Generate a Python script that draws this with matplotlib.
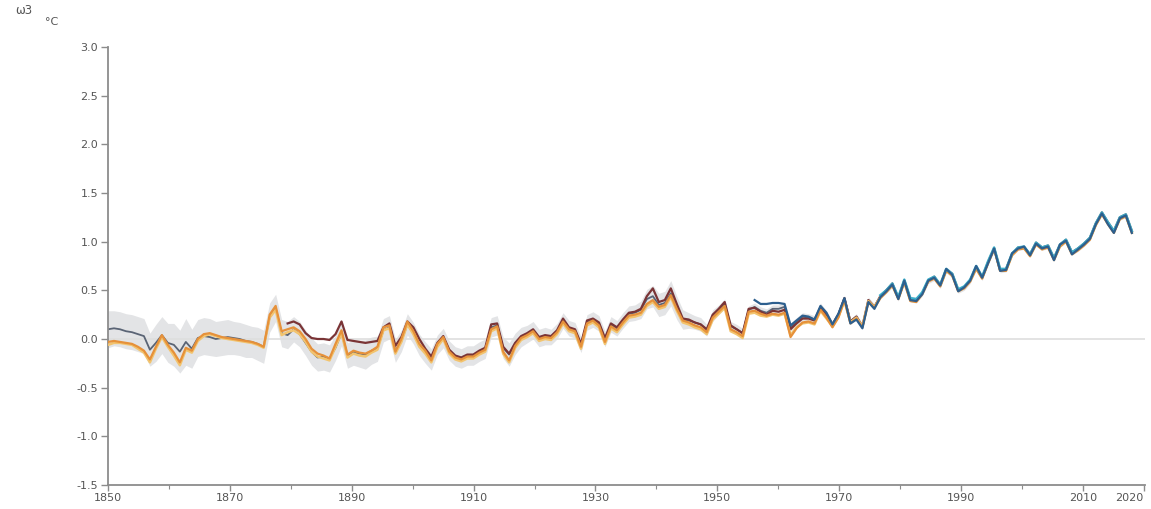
import numpy as np
import matplotlib
matplotlib.use("Agg")
import matplotlib.pyplot as plt

plt.rcParams['font.family'] = ['DejaVu Sans']
plt.rcParams['axes.unicode_minus'] = False

# annual global mean temperature anomaly (deg C, relative to 1850-1900)
years_full = np.arange(1850, 2022)

hadcrut = [
    0.10, 0.11, 0.10, 0.08, 0.07, 0.05, 0.03, -0.11, -0.04, 0.04,
    -0.04, -0.06, -0.13, -0.03, -0.10, 0.01, 0.03, 0.02, 0.00, 0.01,
    0.02, 0.01, 0.00, -0.02, -0.03, -0.05, -0.08, 0.22, 0.32, 0.06,
    0.04, 0.10, 0.05, -0.04, -0.13, -0.19, -0.18, -0.20, -0.09, 0.06,
    -0.17, -0.14, -0.15, -0.16, -0.12, -0.10, 0.09, 0.12, -0.12, -0.02,
    0.15, 0.06, -0.06, -0.14, -0.21, -0.06, 0.01, -0.12, -0.18, -0.20,
    -0.17, -0.17, -0.13, -0.10, 0.12, 0.14, -0.09, -0.16, -0.05, 0.02,
    0.05, 0.09, 0.01, 0.03, 0.02, 0.08, 0.19, 0.11, 0.09, -0.06,
    0.17, 0.20, 0.16, 0.00, 0.15, 0.11, 0.19, 0.26, 0.27, 0.30,
    0.41, 0.44, 0.35, 0.37, 0.47, 0.32, 0.20, 0.19, 0.17, 0.15,
    0.09, 0.24, 0.30, 0.36, 0.13, 0.10, 0.06, 0.30, 0.33, 0.29,
    0.27, 0.31, 0.31, 0.33, 0.12, 0.18, 0.23, 0.22, 0.20, 0.33,
    0.26, 0.15, 0.26, 0.42, 0.18, 0.23, 0.13, 0.40, 0.33, 0.44,
    0.50, 0.56, 0.42, 0.60, 0.41, 0.40, 0.47, 0.60, 0.63, 0.55,
    0.71, 0.66, 0.50, 0.53, 0.60, 0.74, 0.63, 0.79, 0.93, 0.71,
    0.71, 0.87, 0.93, 0.94, 0.86, 0.98, 0.93, 0.95, 0.82, 0.96,
    1.01, 0.88, 0.92, 0.97, 1.03, 1.18, 1.29, 1.19, 1.10, 1.24,
    1.27, 1.10]

hadcrut_err = [
    0.19, 0.18, 0.18, 0.18, 0.18, 0.18, 0.18, 0.17, 0.19, 0.19,
    0.20, 0.22, 0.22, 0.24, 0.20, 0.19, 0.19, 0.19, 0.18, 0.18,
    0.18, 0.17, 0.17, 0.17, 0.16, 0.17, 0.17, 0.15, 0.14, 0.14,
    0.14, 0.13, 0.13, 0.13, 0.14, 0.14, 0.14, 0.14, 0.13, 0.13,
    0.13, 0.13, 0.14, 0.15, 0.14, 0.13, 0.12, 0.12, 0.12, 0.11,
    0.11, 0.11, 0.11, 0.11, 0.11, 0.10, 0.10, 0.10, 0.10, 0.10,
    0.10, 0.10, 0.10, 0.10, 0.10, 0.10, 0.11, 0.12, 0.11, 0.10,
    0.09, 0.09, 0.09, 0.09, 0.08, 0.08, 0.08, 0.08, 0.08, 0.08,
    0.08, 0.08, 0.08, 0.08, 0.08, 0.08, 0.08, 0.08, 0.08, 0.09,
    0.10, 0.11, 0.12, 0.12, 0.13, 0.12, 0.10, 0.08, 0.07, 0.07,
    0.06, 0.06, 0.05, 0.05, 0.05, 0.05, 0.05, 0.04, 0.04, 0.04,
    0.04, 0.04, 0.04, 0.04, 0.04, 0.04, 0.04, 0.04, 0.04, 0.04,
    0.03, 0.03, 0.03, 0.03, 0.03, 0.03, 0.03, 0.03, 0.03, 0.03,
    0.03, 0.03, 0.03, 0.03, 0.03, 0.03, 0.03, 0.03, 0.03, 0.03,
    0.03, 0.03, 0.03, 0.03, 0.03, 0.03, 0.03, 0.03, 0.03, 0.03,
    0.02, 0.02, 0.02, 0.02, 0.02, 0.02, 0.02, 0.02, 0.02, 0.02,
    0.02, 0.02, 0.02, 0.02, 0.02, 0.02, 0.02, 0.02, 0.02, 0.02,
    0.02, 0.02]

noaa = [
    -0.03, -0.02, -0.03, -0.04, -0.05, -0.08, -0.12, -0.21, -0.08, 0.04,
    -0.06, -0.14, -0.24, -0.09, -0.12, 0.00, 0.05, 0.06, 0.04, 0.02,
    0.01, 0.00, -0.01, -0.02, -0.03, -0.05, -0.08, 0.25, 0.34, 0.08,
    0.10, 0.12, 0.08, 0.00, -0.10, -0.15, -0.17, -0.20, -0.05, 0.09,
    -0.16, -0.12, -0.14, -0.15, -0.12, -0.08, 0.12, 0.14, -0.13, 0.00,
    0.18, 0.08, -0.05, -0.12, -0.22, -0.05, 0.02, -0.13, -0.19, -0.21,
    -0.18, -0.18, -0.14, -0.11, 0.10, 0.13, -0.13, -0.22, -0.07, 0.01,
    0.04, 0.08, 0.00, 0.02, 0.01, 0.07, 0.18, 0.10, 0.08, -0.08,
    0.16, 0.19, 0.14, -0.03, 0.13, 0.09, 0.17, 0.24, 0.25, 0.27,
    0.36, 0.40, 0.33, 0.35, 0.45, 0.31, 0.19, 0.17, 0.14, 0.12,
    0.07, 0.22, 0.28, 0.34, 0.10, 0.07, 0.03, 0.28, 0.29, 0.26,
    0.24, 0.26, 0.25, 0.27, 0.02, 0.11, 0.17, 0.18, 0.16, 0.30,
    0.22, 0.12, 0.22, 0.40, 0.16, 0.21, 0.12, 0.38, 0.32, 0.42,
    0.48, 0.55, 0.41, 0.58, 0.39, 0.38, 0.46, 0.59, 0.62, 0.54,
    0.70, 0.65, 0.49, 0.52, 0.59, 0.72, 0.62, 0.78, 0.92, 0.70,
    0.70, 0.86, 0.92, 0.93, 0.85, 0.97, 0.92, 0.94, 0.81, 0.95,
    1.00, 0.87, 0.91, 0.96, 1.02, 1.17, 1.28, 1.18, 1.09, 1.23,
    1.26, 1.09]

berkeley = [
    -0.06, -0.04, -0.04, -0.05, -0.06, -0.10, -0.14, -0.24, -0.10, 0.02,
    -0.08, -0.17, -0.27, -0.11, -0.14, -0.02, 0.03, 0.05, 0.03, 0.01,
    0.00, -0.01, -0.02, -0.03, -0.04, -0.06, -0.09, 0.22, 0.30, 0.04,
    0.07, 0.09, 0.05, -0.03, -0.13, -0.18, -0.20, -0.22, -0.08, 0.06,
    -0.19, -0.15, -0.17, -0.18, -0.14, -0.11, 0.09, 0.11, -0.15, -0.03,
    0.15, 0.05, -0.08, -0.15, -0.24, -0.08, 0.00, -0.15, -0.21, -0.23,
    -0.20, -0.20, -0.16, -0.13, 0.08, 0.11, -0.15, -0.24, -0.09, -0.01,
    0.02, 0.06, -0.02, 0.00, -0.01, 0.05, 0.16, 0.08, 0.06, -0.10,
    0.14, 0.17, 0.12, -0.05, 0.11, 0.07, 0.15, 0.22, 0.23, 0.25,
    0.34, 0.38, 0.31, 0.33, 0.43, 0.29, 0.17, 0.15, 0.12, 0.10,
    0.05, 0.20, 0.26, 0.32, 0.08, 0.05, 0.01, 0.26, 0.27, 0.24,
    0.23, 0.25, 0.24, 0.26, 0.04, 0.12, 0.16, 0.17, 0.15, 0.29,
    0.21, 0.13, 0.23, 0.39, 0.17, 0.22, 0.13, 0.39, 0.33, 0.43,
    0.49, 0.55, 0.42, 0.59, 0.40, 0.39, 0.47, 0.60, 0.63, 0.55,
    0.71, 0.66, 0.50, 0.53, 0.60, 0.73, 0.63, 0.79, 0.93, 0.71,
    0.71, 0.87, 0.93, 0.94, 0.86, 0.98, 0.93, 0.95, 0.82, 0.96,
    1.01, 0.88, 0.92, 0.97, 1.03, 1.18, 1.29, 1.19, 1.10, 1.24,
    1.27, 1.10]

years_gistemp = np.arange(1880, 2022)
gistemp = [
    0.16, 0.18, 0.15, 0.06, 0.01, 0.00, 0.00, -0.01, 0.05, 0.18,
    -0.01, -0.02, -0.03, -0.04, -0.03, -0.02, 0.12, 0.16, -0.07, 0.02,
    0.18, 0.12, 0.00, -0.10, -0.18, -0.04, 0.03, -0.11, -0.17, -0.19,
    -0.16, -0.16, -0.12, -0.09, 0.15, 0.16, -0.08, -0.15, -0.04, 0.03,
    0.06, 0.10, 0.02, 0.04, 0.03, 0.09, 0.21, 0.12, 0.10, -0.05,
    0.19, 0.21, 0.17, 0.01, 0.16, 0.12, 0.20, 0.27, 0.28, 0.31,
    0.44, 0.52, 0.38, 0.40, 0.52, 0.36, 0.21, 0.20, 0.17, 0.15,
    0.10, 0.25, 0.31, 0.38, 0.14, 0.10, 0.06, 0.31, 0.32, 0.28,
    0.25, 0.29, 0.28, 0.30, 0.10, 0.16, 0.21, 0.21, 0.19, 0.32,
    0.25, 0.15, 0.25, 0.42, 0.18, 0.23, 0.13, 0.40, 0.33, 0.44,
    0.50, 0.57, 0.42, 0.60, 0.41, 0.40, 0.47, 0.60, 0.64, 0.55,
    0.71, 0.67, 0.50, 0.53, 0.60, 0.74, 0.63, 0.79, 0.93, 0.71,
    0.72, 0.87, 0.94, 0.94, 0.87, 0.99, 0.94, 0.96, 0.83, 0.97,
    1.02, 0.89, 0.93, 0.98, 1.04, 1.19, 1.30, 1.20, 1.11, 1.25,
    1.28, 1.11]

years_jra55 = np.arange(1958, 2022)
jra55 = [
    0.40, 0.36,
    0.36, 0.37, 0.37, 0.36, 0.14, 0.19, 0.24, 0.23, 0.20, 0.34,
    0.27, 0.15, 0.26, 0.42, 0.16, 0.20, 0.11, 0.38, 0.31, 0.43,
    0.49, 0.56, 0.41, 0.60, 0.40, 0.39, 0.46, 0.60, 0.63, 0.55,
    0.72, 0.66, 0.49, 0.53, 0.60, 0.75, 0.63, 0.78, 0.93, 0.70,
    0.71, 0.88, 0.93, 0.95, 0.86, 0.98, 0.93, 0.95, 0.81, 0.97,
    1.01, 0.87, 0.92, 0.97, 1.03, 1.18, 1.29, 1.18, 1.09, 1.24,
    1.27, 1.09]

years_era5 = np.arange(1979, 2022)
era5 = [
    0.45,
    0.50, 0.57, 0.43, 0.61, 0.42, 0.41, 0.48, 0.61, 0.64, 0.56,
    0.72, 0.67, 0.51, 0.54, 0.61, 0.75, 0.64, 0.80, 0.94, 0.72,
    0.72, 0.88, 0.94, 0.95, 0.87, 0.99, 0.94, 0.96, 0.83, 0.97,
    1.02, 0.89, 0.93, 0.98, 1.04, 1.19, 1.30, 1.20, 1.11, 1.25,
    1.28, 1.11]

tick_years = [1850, 1870, 1890, 1910, 1930, 1950, 1970, 1990, 2010, 2020]
minor_years = [1860, 1880, 1900, 1920, 1940, 1960, 1980, 2000]
ytick_vals = [-1.5, -1.0, -0.5, 0.0, 0.5, 1.0, 1.5, 2.0, 2.5, 3.0]

fig = plt.figure(figsize=(11.51, 5.09), dpi=100)
ax = fig.add_axes([108 / 1151, 24 / 509, 1037 / 1151, 438 / 509])

hc = np.array(hadcrut)
err = np.array(hadcrut_err)
ax.fill_between(years_full, hc - err, hc + err, color='#e3e4e6', lw=0, zorder=1)
ax.axhline(0, color='#dedede', lw=1.2, zorder=1.5)

ax.plot(years_full, hadcrut, color='#5a6475', lw=1.3, zorder=2)
ax.plot(years_gistemp, gistemp, color='#7a3436', lw=1.6, zorder=3)
ax.plot(years_full, berkeley, color='#f2c46f', lw=1.8, zorder=4)
ax.plot(years_full, noaa, color='#e6913a', lw=1.6, zorder=5)
ax.plot(years_era5, era5, color='#3ab0cc', lw=1.8, zorder=6)
ax.plot(years_jra55, jra55, color='#2d5f8e', lw=1.6, zorder=7)

ax.set_xlim(1850, 2023.2)
ax.set_ylim(-1.5, 3.0)

# the original axis places its year labels slightly stretched
stretch = 173.0 / 170.0
ax.set_xticks([1850 + (y - 1850) * stretch for y in tick_years])
ax.set_xticklabels([str(y) for y in tick_years])
ax.set_xticks([1850 + (y - 1850) * stretch for y in minor_years], minor=True)
ax.get_xticklabels()[-1].set_horizontalalignment('right')
ax.set_yticks(ytick_vals)
ax.set_yticklabels(['%.1f' % v for v in ytick_vals])

for s in ['top', 'right']:
    ax.spines[s].set_visible(False)
for s in ['left', 'bottom']:
    ax.spines[s].set_color('#8c8c8c')
    ax.spines[s].set_linewidth(1.3)

ax.tick_params(axis='y', length=5, width=1.0, color='#8c8c8c', pad=2,
               labelsize=8, labelcolor='#555555')
ax.tick_params(axis='x', which='major', length=4, width=1.0, color='#8c8c8c',
               pad=2, labelsize=8, labelcolor='#555555')
ax.tick_params(axis='x', which='minor', length=3, width=0.8, color='#8c8c8c')

fig.text(52 / 1151, 1 - 22 / 509, '°C', fontsize=8, color='#555555',
         ha='center', va='center')
fig.text(24 / 1151, 1 - 10 / 509, 'ω3', fontsize=8.5, color='#555555',
         ha='center', va='center')

fig.savefig('out.png', dpi=100)
